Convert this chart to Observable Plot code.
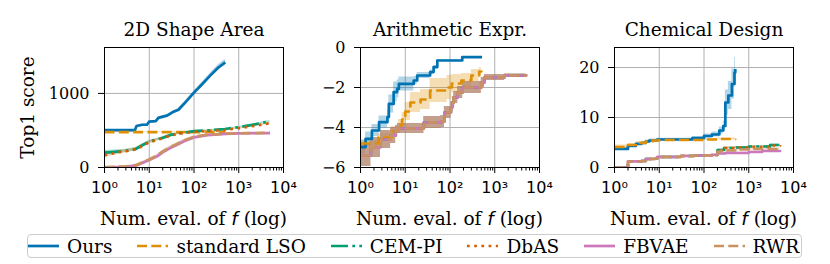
<!DOCTYPE html>
<html>
<head>
<meta charset="utf-8">
<script src="https://cdn.jsdelivr.net/npm/d3@7"></script>
<script src="https://cdn.jsdelivr.net/npm/@observablehq/plot@0.6"></script>
<style>
  html, body { margin: 0; padding: 0; background: #fff; }
  #root { position: relative; width: 830px; height: 264px; font-family: 'DejaVu Serif', serif; overflow: hidden; }
  .panel { position: absolute; top: 0; }
  #legend { position: absolute; left: 27px; top: 234px; width: 775px; height: 24px; box-sizing: border-box;
            border: 1.5px solid #cccccc; border-radius: 4px; display: flex; align-items: center; padding-left: 0px;
            font-family: 'DejaVu Serif', serif; font-size: 18.5px; color: #000; white-space: nowrap; }
  .item { display: flex; align-items: center; margin-right: 25px; font-family: 'DejaVu Serif', serif; }
  .item svg { margin-right: 8px; display: block; }
</style>
</head>
<body>
<div id="root"></div>
<script>
// ---------- series meta ----------
const seriesNames  = ["Ours", "standard LSO", "CEM-PI", "DbAS", "FBVAE", "RWR"];
const seriesColors = ["#0173b2", "#de8f05", "#029e73", "#d55e00", "#cc78bc", "#ca9161"];
const seriesDash   = [null, "10,4.3", "17,4.3,2.7,4.3", "2.7,4.5", null, "10,4.3"];

// ---------- ticks ----------
const xMajorTicks = [1, 10, 100, 1000, 10000];
const xMinorTicks = [2,3,4,5,6,7,8,9, 20,30,40,50,60,70,80,90, 200,300,400,500,600,700,800,900, 2000,3000,4000,5000,6000,7000,8000,9000];
const shapeYTicks = [0, 1000];
const arithYTicks = [-6, -4, -2, 0];
const chemYTicks  = [0, 10, 20];
const panelTitles = ["2D Shape Area", "Arithmetic Expr.", "Chemical Design"];

// ---------- data: [evaluations, top1 score, band half-width] ----------
// 2D Shape Area
const shapeOurs  = [[1,505,8],[4.8,505,8],[5.2,560,10],[7,577,10],[9,580,10],[10,620,12],[14,625,12],[16,670,14],[25,700,15],[33,745,16],[45,780,18],[60,860,20],[100,1010,24],[150,1120,28],[230,1240,32],[350,1350,36],[500,1420,40]];
const shapeLSO   = [[1,477,6],[10,477,6],[100,478,6],[500,480,6]];
const shapeCEM   = [[1,200,30],[2,215,25],[3,225,22],[5,250,20],[7,300,20],[10,350,18],[15,380,16],[20,400,15],[30,440,14],[50,465,12],[100,490,10],[200,500,10],[500,520,10],[1000,545,10],[2000,575,12],[5000,625,14]];
const shapeDbAS  = [[1,165,30],[2,205,25],[3,220,22],[5,245,20],[7,290,20],[10,340,18],[15,372,16],[20,395,15],[30,432,14],[50,460,12],[100,482,10],[200,492,10],[500,508,10],[1000,530,10],[2000,558,12],[5000,598,14]];
const shapeFBVAE = [[1,0,5],[3,10,8],[5,25,10],[7,60,15],[10,100,18],[15,150,20],[20,205,22],[30,265,22],[40,300,20],[60,355,18],[100,405,15],[200,438,10],[500,455,8],[1000,460,6],[5000,465,6]];
const shapeRWR   = [[1,5,8],[3,15,10],[5,32,12],[7,68,15],[10,108,18],[15,160,20],[20,215,22],[30,275,22],[40,310,20],[60,365,18],[100,415,15],[200,442,10],[500,457,8],[1000,462,6],[5000,468,6]];

// Arithmetic Expr.
const arithOurs  = [[1,-4.98,0.35],[1.3,-4.57,0.35],[1.8,-4.15,0.3],[2.6,-3.73,0.3],[4,-3.48,0.35],[4.3,-2.82,0.45],[5.5,-2.23,0.5],[6.6,-2.07,0.45],[7.2,-1.82,0.35],[15.5,-1.65,0.2],[18.5,-1.4,0.15],[36,-1.23,0.1],[43,-0.98,0.08],[52,-0.65,0.05],[188,-0.48,0.03],[520,-0.48,0.03]];
const arithLSO   = [[1,-4.8,0.15],[2.5,-4.5,0.2],[5,-4.2,0.25],[7,-3.9,0.3],[8.5,-3.6,0.35],[10,-3.2,0.45],[13,-2.75,0.5],[22,-2.6,0.5],[36,-2.15,0.6],[86,-2.0,0.6],[110,-1.8,0.45],[180,-1.65,0.35],[300,-1.4,0.3],[450,-1.2,0.2],[500,-1.15,0.15]];
const arithCEM   = [[1,-5.4,0.55],[1.7,-5.0,0.5],[2.8,-4.6,0.45],[4.7,-4.4,0.4],[6.1,-4.2,0.3],[6.7,-4.05,0.25],[26,-3.75,0.3],[63,-3.7,0.3],[75,-3.25,0.3],[105,-3.0,0.3],[115,-2.75,0.3],[121,-2.5,0.3],[149,-2.25,0.3],[192,-2.0,0.3],[500,-1.75,0.25],[590,-1.5,0.15],[1660,-1.4,0.08],[5000,-1.35,0.05]];
const arithDbAS  = [[1,-5.4,0.55],[1.7,-5.0,0.5],[2.8,-4.6,0.45],[4.7,-4.4,0.4],[6.1,-4.2,0.3],[6.7,-4.05,0.25],[26,-3.75,0.3],[63,-3.7,0.3],[75,-3.25,0.3],[105,-3.0,0.3],[115,-2.75,0.3],[121,-2.5,0.3],[149,-2.25,0.3],[192,-2.0,0.3],[500,-1.75,0.25],[590,-1.5,0.15],[1660,-1.4,0.08],[5000,-1.35,0.05]];
const arithFBVAE = [[1,-5.4,0.55],[1.7,-5.0,0.5],[2.8,-4.6,0.45],[4.7,-4.4,0.4],[6.1,-4.2,0.3],[6.7,-4.05,0.25],[26,-3.75,0.3],[63,-3.7,0.3],[75,-3.25,0.3],[105,-3.0,0.3],[115,-2.75,0.3],[121,-2.5,0.3],[149,-2.25,0.3],[192,-2.0,0.3],[500,-1.75,0.25],[590,-1.5,0.15],[1660,-1.4,0.08],[5000,-1.35,0.05]];
const arithRWR   = [[1,-5.4,0.55],[1.7,-5.0,0.5],[2.8,-4.6,0.45],[4.7,-4.4,0.4],[6.1,-4.2,0.3],[6.7,-4.05,0.25],[26,-3.75,0.3],[63,-3.7,0.3],[75,-3.25,0.3],[105,-3.0,0.3],[115,-2.75,0.3],[121,-2.5,0.3],[149,-2.25,0.3],[192,-2.0,0.3],[500,-1.75,0.25],[590,-1.5,0.15],[1660,-1.4,0.08],[5000,-1.35,0.05]];

// Chemical Design
const chemOurs  = [[1,3.7,0.3],[2,4.3,0.3],[3,4.7,0.3],[4,4.9,0.3],[5,5.2,0.3],[6,5.4,0.3],[9,5.6,0.25],[20,5.6,0.25],[55,5.9,0.3],[100,6.3,0.4],[150,6.6,0.5],[220,7.4,0.7],[270,8.3,1.0],[300,13,2.5],[350,14.4,2.8],[420,16.7,3],[480,19,3],[500,19.7,3]];
const chemLSO   = [[1,4.1,0.4],[2,4.5,0.3],[3,4.9,0.3],[5,5.2,0.2],[7,5.4,0.2],[10,5.5,0.2],[30,5.5,0.2],[100,5.6,0.2],[200,5.7,0.2],[500,5.75,0.2]];
const chemCEM   = [[1,0,0.1],[1.9,0,0.1],[2,1.2,0.15],[4,1.3,0.15],[5,1.7,0.15],[8,1.8,0.15],[9,2.1,0.15],[30,2.3,0.15],[60,2.4,0.15],[150,2.5,0.15],[200,3.5,0.2],[280,3.9,0.2],[500,4.0,0.2],[1000,4.2,0.2],[3000,4.5,0.2],[5000,4.6,0.2]];
const chemDbAS  = [[1,0,0.1],[1.9,0,0.1],[2,1.2,0.15],[4,1.3,0.15],[5,1.7,0.15],[8,1.8,0.15],[9,2.1,0.15],[30,2.3,0.15],[60,2.4,0.15],[150,2.5,0.15],[200,3.4,0.2],[300,3.9,0.2],[500,4.0,0.2],[1000,4.1,0.2],[3000,4.4,0.2],[5000,4.5,0.2]];
const chemFBVAE = [[1,0,0.1],[1.9,0,0.1],[2,1.2,0.15],[4,1.3,0.15],[5,1.7,0.15],[8,1.8,0.15],[9,2.1,0.15],[30,2.3,0.15],[60,2.4,0.15],[150,2.5,0.15],[200,2.8,0.2],[300,2.9,0.2],[1000,3.1,0.2],[2000,3.3,0.2],[5000,3.5,0.2]];
const chemRWR   = [[1,0,0.1],[1.9,0,0.1],[2,1.2,0.15],[4,1.3,0.15],[5,1.7,0.15],[8,1.8,0.15],[9,2.1,0.15],[30,2.3,0.15],[60,2.4,0.15],[150,2.5,0.15],[200,3.2,0.2],[250,3.4,0.2],[500,3.6,0.2],[1000,3.7,0.2],[5000,3.85,0.2]];

// ---------- rendering ----------
const supDigits = {"0":"⁰","1":"¹","2":"²","3":"³","4":"⁴"};
const fmtX = d => "10" + supDigits[String(Math.round(Math.log10(d)))];
const fmtY = d => String(d).replace("-", "\u2212");
const GRID = "#b0b0b0";
const SERIF = "DejaVu Serif";
const SANS = "DejaVu Sans";
const FRAME_W = 179, TOP = 47, BOTTOM = 167, H = 232;

function makePanel(cfg) {
  const marks = [
    Plot.gridX({ticks: xMajorTicks, stroke: GRID, strokeOpacity: 1, strokeWidth: 1}),
    Plot.gridY({ticks: cfg.yTicks, stroke: GRID, strokeOpacity: 1, strokeWidth: 1})
  ];
  cfg.series.forEach((s, i) => {
    marks.push(Plot.areaY(s, {x: d => d[0], y1: d => d[1] - d[2], y2: d => d[1] + d[2],
      fill: seriesColors[i], fillOpacity: 0.3, curve: cfg.curve, clip: true}));
  });
  cfg.series.forEach((s, i) => {
    const o = {x: d => d[0], y: d => d[1], stroke: seriesColors[i], strokeWidth: 2.7,
      curve: cfg.curve, clip: true, strokeLinecap: "butt"};
    if (seriesDash[i]) o.strokeDasharray = seriesDash[i];
    marks.push(Plot.line(s, o));
  });
  marks.push(Plot.frame({stroke: "#000", strokeWidth: 1}));
  marks.push(Plot.axisX({ticks: xMinorTicks, tickSize: 3.5, tickFormat: () => "", label: null, stroke: "#000"}));
  marks.push(Plot.axisX({ticks: xMajorTicks, tickSize: 6, tickPadding: 8, tickFormat: fmtX, label: null,
    fontSize: 16, fontFamily: SANS, stroke: "#000", fill: "#000"}));
  marks.push(Plot.axisY({ticks: cfg.yTicks, tickSize: 6, tickPadding: 9, tickFormat: fmtY, label: null,
    fontSize: 16, fontFamily: SERIF, stroke: "#000", fill: "#000"}));
  marks.push(Plot.text([cfg.title], {text: d => d, frameAnchor: "top", dy: -12, lineAnchor: "bottom",
    fontSize: 18.5, fontFamily: SERIF, fill: "#000"}));
  if (cfg.yLabel) {
    marks.push(Plot.text([cfg.yLabel], {text: d => d, frameAnchor: "left", dx: -76, rotate: -90,
      textAnchor: "middle", lineAnchor: "middle", fontSize: 18.5, fontFamily: SERIF, fill: "#000"}));
  }
  const svg = Plot.plot({
    width: cfg.width, height: H,
    marginLeft: cfg.marginLeft, marginRight: cfg.width - cfg.marginLeft - FRAME_W,
    marginTop: TOP, marginBottom: H - BOTTOM,
    x: {type: "log", domain: [1, 10000]},
    y: {domain: cfg.yDomain},
    style: {fontFamily: SERIF, fontSize: "16px", background: "transparent", color: "#000", overflow: "visible"},
    marks
  });
  // x label with italic f
  const t = d3.select(svg).append("text")
    .attr("x", cfg.marginLeft + FRAME_W / 2).attr("y", 225)
    .attr("text-anchor", "middle").attr("font-size", 18.5).attr("fill", "#000")
    .attr("font-family", SERIF);
  t.append("tspan").text("Num. eval. of ");
  t.append("tspan").attr("font-style", "italic").attr("font-family", SANS).text("f");
  t.append("tspan").text(" (log)");
  svg.classList.add("panel");
  svg.style.left = cfg.left + "px";
  svg.style.position = "absolute";
  svg.style.top = "0px";
  return svg;
}

const root = document.getElementById("root");
root.appendChild(makePanel({title: panelTitles[0], yLabel: "Top1 score", left: 0, width: 300, marginLeft: 104,
  yDomain: [0, 1620], yTicks: shapeYTicks, curve: "linear",
  series: [shapeOurs, shapeLSO, shapeCEM, shapeDbAS, shapeFBVAE, shapeRWR]}));
root.appendChild(makePanel({title: panelTitles[1], left: 300, width: 270, marginLeft: 60,
  yDomain: [-6, 0], yTicks: arithYTicks, curve: "step-after",
  series: [arithOurs, arithLSO, arithCEM, arithDbAS, arithFBVAE, arithRWR]}));
root.appendChild(makePanel({title: panelTitles[2], left: 570, width: 260, marginLeft: 44,
  yDomain: [0, 24], yTicks: chemYTicks, curve: "step-after",
  series: [chemOurs, chemLSO, chemCEM, chemDbAS, chemFBVAE, chemRWR]}));

// legend
const legend = document.createElement("div");
legend.id = "legend";
seriesNames.forEach((name, i) => {
  const item = document.createElement("div");
  item.className = "item";
  const ns = "http://www.w3.org/2000/svg";
  const sw = document.createElementNS(ns, "svg");
  sw.setAttribute("width", 31); sw.setAttribute("height", 10);
  const ln = document.createElementNS(ns, "line");
  ln.setAttribute("x1", 0); ln.setAttribute("x2", 31); ln.setAttribute("y1", 5); ln.setAttribute("y2", 5);
  ln.setAttribute("stroke", seriesColors[i]); ln.setAttribute("stroke-width", 2.7);
  if (seriesDash[i]) ln.setAttribute("stroke-dasharray", seriesDash[i]);
  sw.appendChild(ln);
  const tx = document.createElement("span");
  tx.textContent = name;
  item.appendChild(sw); item.appendChild(tx);
  legend.appendChild(item);
});
root.appendChild(legend);
</script>
</body>
</html>
